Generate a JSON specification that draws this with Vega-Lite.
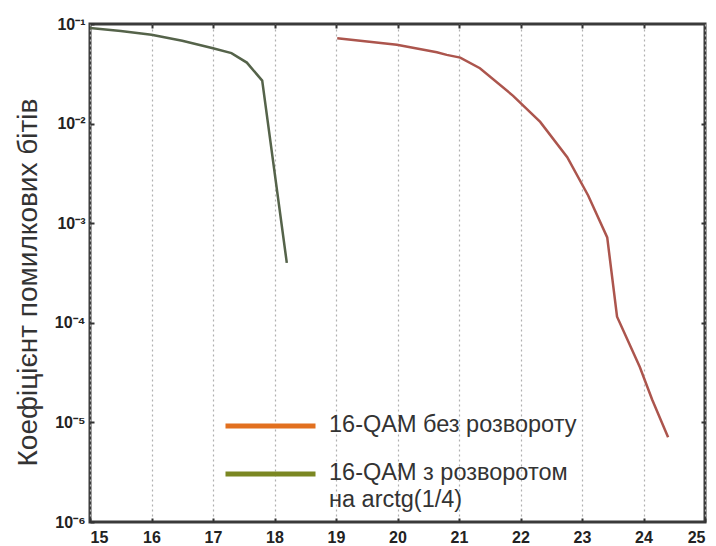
{
  "$schema": "https://vega.github.io/schema/vega-lite/v6.json",
  "width": 615,
  "height": 498,
  "autosize": {"type": "none"},
  "padding": {"left": 90, "top": 24, "right": 11, "bottom": 24},
  "background": "white",
  "config": {
    "view": {"stroke": "#3a3a3a", "strokeWidth": 3},
    "font": "Liberation Sans"
  },
  "data": {
    "values": [
      {"snr": 15.0, "ber": 0.091, "series": "16-QAM з розворотом на arctg(1/4)"},
      {"snr": 15.5, "ber": 0.085, "series": "16-QAM з розворотом на arctg(1/4)"},
      {"snr": 16.0, "ber": 0.078, "series": "16-QAM з розворотом на arctg(1/4)"},
      {"snr": 16.5, "ber": 0.068, "series": "16-QAM з розворотом на arctg(1/4)"},
      {"snr": 17.0, "ber": 0.057, "series": "16-QAM з розворотом на arctg(1/4)"},
      {"snr": 17.3, "ber": 0.051, "series": "16-QAM з розворотом на arctg(1/4)"},
      {"snr": 17.55, "ber": 0.041, "series": "16-QAM з розворотом на arctg(1/4)"},
      {"snr": 17.8, "ber": 0.027, "series": "16-QAM з розворотом на arctg(1/4)"},
      {"snr": 18.2, "ber": 0.0004, "series": "16-QAM з розворотом на arctg(1/4)"},
      {"snr": 19.02, "ber": 0.072, "series": "16-QAM без розвороту"},
      {"snr": 19.99, "ber": 0.062, "series": "16-QAM без розвороту"},
      {"snr": 20.64, "ber": 0.052, "series": "16-QAM без розвороту"},
      {"snr": 20.8, "ber": 0.049, "series": "16-QAM без розвороту"},
      {"snr": 21.02, "ber": 0.046, "series": "16-QAM без розвороту"},
      {"snr": 21.34, "ber": 0.036, "series": "16-QAM без розвороту"},
      {"snr": 21.88, "ber": 0.019, "series": "16-QAM без розвороту"},
      {"snr": 22.32, "ber": 0.0104, "series": "16-QAM без розвороту"},
      {"snr": 22.76, "ber": 0.0046, "series": "16-QAM без розвороту"},
      {"snr": 23.1, "ber": 0.0019, "series": "16-QAM без розвороту"},
      {"snr": 23.41, "ber": 0.00072, "series": "16-QAM без розвороту"},
      {"snr": 23.57, "ber": 0.000115, "series": "16-QAM без розвороту"},
      {"snr": 23.94, "ber": 0.000036, "series": "16-QAM без розвороту"},
      {"snr": 24.14, "ber": 0.000017, "series": "16-QAM без розвороту"},
      {"snr": 24.4, "ber": 0.0000071, "series": "16-QAM без розвороту"}
    ]
  },
  "resolve": {"axis": {"x": "independent", "y": "independent"}},
  "layer": [
    {
      "transform": [{"filter": "datum.series == '16-QAM з розворотом на arctg(1/4)'"}],
      "mark": {"type": "line", "strokeWidth": 2.5, "clip": true, "color": "#55634a"},
      "encoding": {
        "x": {
          "field": "snr",
          "type": "quantitative",
          "scale": {"domain": [15, 25], "nice": false, "zero": false},
          "axis": {
            "orient": "bottom",
            "title": null,
            "values": [15, 16, 17, 18, 19, 20, 21, 22, 23, 24, 25],
            "grid": true,
            "gridDash": [2, 3],
            "gridColor": "#b0b0b0",
            "gridWidth": 1.2,
            "domain": false,
            "tickSize": -4,
            "tickColor": "#333",
            "tickWidth": 2,
            "labelPadding": 11,
            "labelFontSize": 16,
            "labelFontWeight": "bold",
            "labelColor": "#222",
            "labelFont": "Liberation Sans"
          }
        },
        "y": {
          "field": "ber",
          "type": "quantitative",
          "scale": {"type": "log", "domain": [0.000001, 0.1], "nice": false},
          "axis": {
            "orient": "left",
            "title": "Коефіцієнт помилкових бітів",
            "values": [0.1, 0.01, 0.001, 0.0001, 0.00001, 0.000001],
            "labelExpr": "'10' + ['⁻¹','⁻²','⁻³','⁻⁴','⁻⁵','⁻⁶'][-round(log(datum.value)/LN10)-1]",
            "grid": false,
            "domain": false,
            "tickSize": -4,
            "tickColor": "#333",
            "tickWidth": 2,
            "labelPadding": 9,
            "labelFontSize": 16,
            "labelFontWeight": "bold",
            "labelColor": "#222",
            "labelFont": "Liberation Sans",
            "titleFont": "Liberation Sans",
            "titleFontSize": 28,
            "titleFontWeight": "normal",
            "titleColor": "#333",
            "titleX": -62,
            "titleY": 258,
            "titleBaseline": "middle",
            "titleAlign": "center",
            "titleAngle": -90
          }
        }
      }
    },
    {
      "transform": [{"filter": "datum.series == '16-QAM без розвороту'"}],
      "mark": {"type": "line", "strokeWidth": 2.5, "clip": true, "color": "#ac554d"},
      "encoding": {
        "x": {
          "field": "snr",
          "type": "quantitative",
          "axis": {
            "orient": "top",
            "title": null,
            "labels": false,
            "values": [16, 17, 18, 19, 20, 21, 22, 23, 24],
            "grid": false,
            "domain": false,
            "tickSize": -4,
            "tickColor": "#333",
            "tickWidth": 2
          }
        },
        "y": {
          "field": "ber",
          "type": "quantitative",
          "axis": {
            "orient": "right",
            "title": null,
            "labels": false,
            "values": [0.01, 0.001, 0.0001, 0.00001],
            "grid": false,
            "domain": false,
            "tickSize": -4,
            "tickColor": "#333",
            "tickWidth": 2
          }
        }
      }
    },
    {
      "transform": [{"filter": "datum.snr > 100"}],
      "mark": {"type": "line", "strokeWidth": 5},
      "encoding": {
        "x": {"field": "snr", "type": "quantitative", "axis": null},
        "y": {"field": "ber", "type": "quantitative", "axis": null},
        "color": {
          "field": "series",
          "type": "nominal",
          "scale": {
            "domain": ["16-QAM без розвороту", "16-QAM з розворотом на arctg(1/4)"],
            "range": ["#e2701f", "#7b8722"]
          },
          "legend": {
            "title": null,
            "orient": "none",
            "legendX": 133,
            "legendY": 392,
            "padding": 0,
            "clipHeight": 20,
            "symbolType": "stroke",
            "symbolSize": 8100,
            "symbolStrokeWidth": 5,
            "labelFontSize": 23.5,
            "labelFont": "Liberation Sans",
            "labelColor": "#333",
            "labelOffset": 11,
            "labelLimit": 0,
            "labelBaseline": "top",
            "rowPadding": 24,
            "labelExpr": "datum.label == '16-QAM з розворотом на arctg(1/4)' ? ['16-QAM з розворотом', 'на arctg(1/4)'] : datum.label",
            "encode": {
              "labels": {
                "update": {
                  "dy": {"value": -13},
                  "lineHeight": {"value": 27}
                }
              }
            }
          }
        }
      }
    }
  ]
}
